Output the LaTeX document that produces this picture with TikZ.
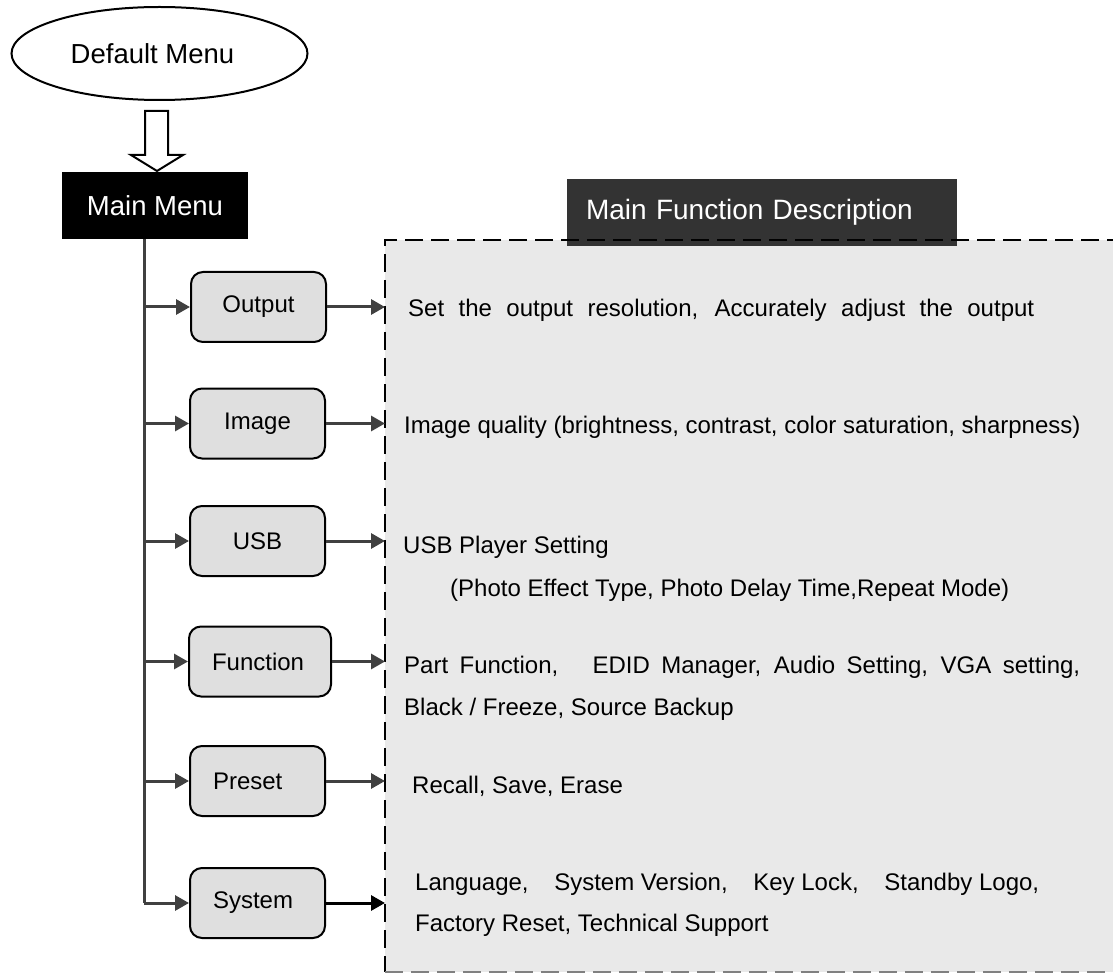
\documentclass[tikz,border=0pt]{standalone}
\usepackage{fontspec}
\setmainfont{Liberation Sans}
\usetikzlibrary{arrows.meta,shapes.geometric,calc}
\definecolor{boxfill}{HTML}{DFDFDF}
\definecolor{regionfill}{HTML}{E9E9E9}
\definecolor{headfill}{HTML}{333333}
\definecolor{linegray}{HTML}{404040}
\begin{document}
\begin{tikzpicture}[x=1pt,y=-1pt,
  every node/.style={font=\fontsize{24}{28}\selectfont},
  menubox/.style={draw=black, line width=2pt, fill=boxfill, rounded corners=12pt,
    minimum height=70pt, text width=89pt, inner xsep=23pt, inner ysep=0pt, align=center},
  leftlabel/.style={align=left},
  conn/.style={draw=linegray, line width=3pt, -{Triangle[length=14pt,width=15pt]}},
  desc/.style={anchor=base west, align=left, inner sep=0pt},
  mdesc/.style={anchor=west, align=left, inner sep=0pt}]
\clip (0,0) rectangle (1113,973);
\fill[white] (0,0) rectangle (1113,973);

% top part
\node[draw, ellipse, line width=2pt, minimum width=296pt, minimum height=93pt, inner sep=0pt,
  font=\fontsize{27.5}{30}\selectfont] (dm) at (159.5,53.5) {\hspace*{-14pt}Default Menu};
\node[fill=black, text=white, minimum width=186pt, minimum height=67pt, inner sep=0pt,
  font=\fontsize{27.5}{30}\selectfont] (mm) at (155,205.5) {Main Menu};
\draw[line width=2pt, fill=white, line join=miter]
  (145,111) -- (168,111) -- (168,155) -- (183,155) -- (157,171) -- (131,155) -- (145,155) -- cycle;

% description region
\fill[regionfill] (385,240) rectangle (1125,972);
\node[fill=headfill, text=white, minimum height=67pt, text width=352pt, inner xsep=19pt,
  inner ysep=0pt, align=left, font=\fontsize{28}{30}\selectfont] (hd) at (762,212.5) {Main Function Description};
\draw[line width=2pt, dash pattern=on 18pt off 8pt] (1125,240) -- (385,240) -- (385,972);
\draw[line width=2pt, gray, dash pattern=on 18pt off 8pt] (385,972) -- (1125,972);
\coordinate (dl) at (385,240);

% trunk
\coordinate (tb) at (144,903);
\draw[linegray, line width=3pt] (mm.south -| tb) -- (tb);

% menu boxes
\node[menubox] (out) at (258.5,307) {Output};
\node[menubox] (img) at (257.5,423.5) {Image};
\node[menubox] (usb) at (257.5,541) {USB};
\node[menubox, text width=96pt, leftlabel] (fun) at (260,661.5) {Function};
\node[menubox, leftlabel] (pre) at (257.5,781) {Preset};
\node[menubox, leftlabel] (sys) at (257.5,903) {System};

\foreach \n in {out,img,usb,fun,pre} {
  \draw[conn] (\n.west -| tb) -- (\n.west);
  \draw[conn] (\n.east) -- (\n.east -| dl);
}
\draw[conn] (sys.west -| tb) -- (sys.west);
\draw[conn, draw=black] (sys.east) -- (sys.east -| dl);

% descriptions
\node[desc] (d1) at (408,316.5) {\makebox[626pt][s]{Set the output resolution, Accurately adjust the output}};
\node[desc] (d2) at (404,433.5) {Image quality (brightness, contrast, color saturation, sharpness)};
\node[mdesc, font=\fontsize{24}{43}\selectfont] (d3) at (403,569) {USB Player Setting\\\hspace*{47pt}(Photo Effect Type, Photo Delay Time,Repeat Mode)};
\node[mdesc, font=\fontsize{24}{42}\selectfont] (d4) at (404,688.5) {\makebox[676pt][s]{Part Function,\ \ \ EDID Manager, Audio Setting, VGA setting,}\\Black / Freeze, Source Backup};
\node[desc] (d5) at (412,793.5) {Recall, Save, Erase};
\node[mdesc, font=\fontsize{24}{41}\selectfont] (d6) at (415,905) {Language,\hspace{19pt} System Version,\hspace{19pt} Key Lock,\hspace{19pt} Standby Logo,\\Factory Reset, Technical Support};
\end{tikzpicture}
\end{document}
